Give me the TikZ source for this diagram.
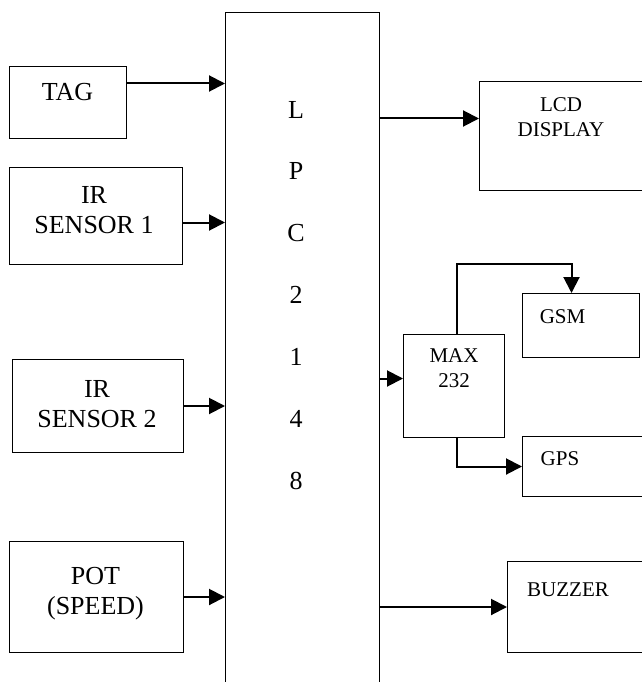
\documentclass[tikz,border=0pt]{standalone}
\usepackage{fontspec}
\setmainfont{Liberation Serif}
\usetikzlibrary{arrows.meta}
\tikzset{block/.style={draw,line width=1pt,inner sep=0pt,anchor=north west}}
\tikzset{bigtext/.style={font=\fontsize{26}{30}\selectfont,align=center,inner sep=0pt}}
\tikzset{smalltext/.style={font=\fontsize{21}{25}\selectfont,align=center,inner sep=0pt}}
\tikzset{link/.style={line width=2pt,-{Triangle[length=16pt,width=16pt]}}}
\begin{document}
\begin{tikzpicture}[x=1pt,y=-1pt]
  \useasboundingbox (0,0) rectangle (641,682);
  \node[block,minimum width=154pt,minimum height=700pt] (lpc) at (225,12) {};
  \foreach \ch [count=\i from 0] in {L,P,C,2,1,4,8}
    \node[bigtext] (lpc\i) at (296,109.5+61.9*\i) {\ch};
  \node[block,minimum width=117pt,minimum height=72pt] (tag) at (9,66) {};
  \node[bigtext] (tagtxt) at (67.5,92) {TAG};
  \node[block,minimum width=173pt,minimum height=97pt] (irone) at (9,167) {};
  \node[bigtext] (ironetxt) at (94,210) {IR\\SENSOR 1};
  \node[block,minimum width=171pt,minimum height=93pt] (irtwo) at (12,359) {};
  \node[bigtext] (irtwotxt) at (97,404.5) {IR\\SENSOR 2};
  \node[block,minimum width=174pt,minimum height=111pt] (pot) at (9,541) {};
  \node[bigtext] (pottxt) at (95.5,594) {POT\\(SPEED)};
  \node[block,minimum width=163pt,minimum height=109pt] (lcd) at (479,81) {};
  \node[smalltext] (lcdtxt) at (561,117.5) {LCD\\DISPLAY};
  \node[block,minimum width=101pt,minimum height=103pt] (max) at (403,334) {};
  \node[smalltext] (maxtxt) at (454,368) {MAX\\232};
  \node[block,minimum width=117pt,minimum height=64pt] (gsm) at (522,293) {};
  \node[smalltext] (gsmtxt) at (562.5,317) {GSM};
  \node[block,minimum width=120pt,minimum height=60pt] (gps) at (522,436) {};
  \node[smalltext] (gpstxt) at (560,459) {GPS};
  \node[block,minimum width=135pt,minimum height=91pt] (buzz) at (507,561) {};
  \node[smalltext] (buzztxt) at (568,590) {BUZZER};
  \coordinate (tagout) at ([yshift=19pt]tag.east);
  \coordinate (ironeout) at ([yshift=-6.5pt]irone.east);
  \coordinate (lcdin) at ([yshift=17.5pt]lcd.west);
  \coordinate (maxin) at ([yshift=7.5pt]max.west);
  \coordinate (gsmin) at ([xshift=-9.5pt]gsm.north);
  \draw[link] (tagout) -- (tagout -| lpc.west);
  \draw[link] (ironeout) -- (ironeout -| lpc.west);
  \draw[link] (irtwo.east) -- (irtwo.east -| lpc.west);
  \draw[link] (pot.east) -- (pot.east -| lpc.west);
  \draw[link] (lcdin -| lpc.east) -- (lcdin);
  \draw[link] (maxin -| lpc.east) -- (maxin);
  \draw[link] (buzz.west -| lpc.east) -- (buzz.west);
  \draw[link] ([xshift=2.5pt]max.north) |- ([yshift=29pt]gsmin) -- (gsmin);
  \draw[link] ([xshift=2.5pt]max.south) |- (gps.west);
\end{tikzpicture}
\end{document}
